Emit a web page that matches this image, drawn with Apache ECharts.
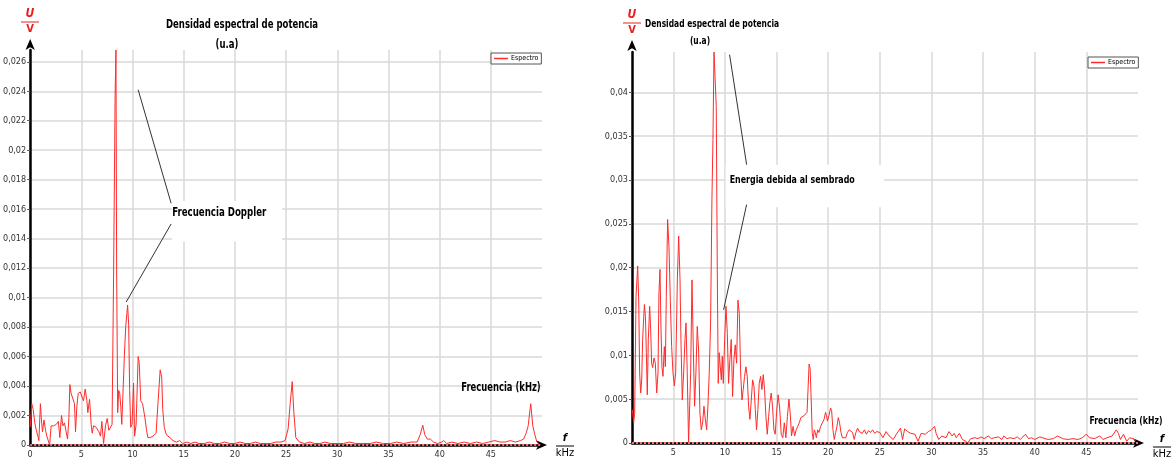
<!DOCTYPE html>
<html>
<head>
<meta charset="utf-8">
<title>Densidad espectral de potencia</title>
<script src="https://cdn.jsdelivr.net/npm/echarts@6/dist/echarts.min.js"></script>
<style>
  html, body { margin: 0; padding: 0; background: #ffffff; }
  #chart { width: 1172px; height: 463px; }
</style>
</head>
<body>
<div id="chart"></div>
<script>
// Power spectral density, two measurements: [frequency kHz, power (u.a.)]
const leftSpectrum = [
  [0,0.0012],[0.15,0.0028],[0.3,0.0024],[0.45,0.0015],[0.6,0.0010],[0.75,0.0006],[0.85,0.0003],
  [1.0,0.0028],[1.1,0.0017],[1.2,0.0009],[1.35,0.0017],[1.5,0.0010],[1.63,0.0006],[1.76,0.0007],
  [1.9,0.0000],[2.05,0.0013],[2.3,0.0013],[2.55,0.0014],[2.75,0.0016],[2.9,0.0005],[3.06,0.0020],
  [3.2,0.0013],[3.35,0.0015],[3.5,0.0016],[3.65,0.0004],[3.78,0.0018],[3.88,0.0041],[4.0,0.0035],
  [4.17,0.0036],[4.33,0.0028],[4.43,0.0009],[4.56,0.0026],[4.69,0.0035],[4.89,0.0036],[5.05,0.0036],
  [5.21,0.0030],[5.37,0.0038],[5.54,0.0030],[5.63,0.0022],[5.8,0.0031],[5.96,0.0014],[6.06,0.0008],
  [6.19,0.0013],[6.45,0.0012],[6.71,0.0009],[6.87,0.0006],[7.0,0.0016],[7.17,0.0001],[7.36,0.0013],
  [7.52,0.0018],[7.69,0.0010],[7.85,0.0009],[8.0,0.0014],[8.15,0.0116],[8.3,0.0238],[8.38,0.0268],
  [8.45,0.0116],[8.55,0.0022],[8.65,0.0037],[8.75,0.0035],[8.85,0.0026],[8.95,0.0014],[9.1,0.0015],
  [9.2,0.0060],[9.33,0.0080],[9.52,0.0095],[9.62,0.0082],[9.72,0.0037],[9.82,0.0012],[9.95,0.0014],
  [10.1,0.0042],[10.2,0.0006],[10.35,0.0014],[10.55,0.0060],[10.65,0.0056],[10.8,0.0030],[10.98,0.0028],
  [11.2,0.0019],[11.37,0.0010],[11.5,0.0005],[11.7,0.0005],[12.0,0.0006],[12.3,0.0008],[12.5,0.0030],
  [12.7,0.0051],[12.85,0.0046],[12.95,0.0024],[13.1,0.0012],[13.3,0.0007],[13.65,0.0005],[13.95,0.0003],
  [14.3,0.0002],[14.6,0.0003],[14.9,0.0001],[15.3,0.0002],[15.7,0.0001],[16.1,0.0002],[16.5,0.0001],
  [17.0,0.0001],[17.5,0.0002],[18.0,0.0001],[18.5,0.0001],[19.0,0.0002],[19.5,0.0001],[20.0,0.0001],
  [20.5,0.0002],[21.0,0.0001],[21.5,0.0001],[22.0,0.0002],[22.5,0.0001],[23.0,0.0001],[23.5,0.0001],
  [24.0,0.0002],[24.5,0.0002],[24.9,0.0003],[25.2,0.0011],[25.4,0.0028],[25.6,0.0043],[25.75,0.0023],
  [25.95,0.0005],[26.3,0.0002],[26.8,0.0001],[27.3,0.0002],[27.8,0.0001],[28.3,0.0001],[28.8,0.0002],
  [29.3,0.0001],[30.0,0.0001],[30.6,0.0001],[31.2,0.0002],[31.8,0.0001],[32.5,0.0001],[33.2,0.0001],
  [33.8,0.0002],[34.5,0.0001],[35.2,0.0001],[35.8,0.0002],[36.5,0.0001],[37.2,0.0002],[37.8,0.0002],
  [38.1,0.0007],[38.35,0.00135],[38.55,0.0007],[38.8,0.0004],[39.1,0.0004],[39.4,0.0002],[39.8,0.0001],
  [40.2,0.0002],[40.4,0.0003],[40.7,0.0001],[41.2,0.0002],[41.8,0.0001],[42.4,0.0002],[43.0,0.0001],
  [43.6,0.0002],[44.2,0.0001],[44.8,0.0002],[45.4,0.0003],[45.9,0.0002],[46.4,0.0002],[46.9,0.0003],
  [47.4,0.0002],[47.9,0.0003],[48.2,0.0004],[48.45,0.0008],[48.65,0.0013],[48.9,0.0028],[49.1,0.0013],
  [49.3,0.0007],[49.5,0.0002],[49.7,0.0001]
];

const rightSpectrum = [
  [1.03,0.0038],[1.16,0.0023],[1.26,0.0034],[1.39,0.0167],[1.55,0.0202],[1.65,0.0163],[1.74,0.0080],
  [1.84,0.0057],[1.94,0.0072],[2.03,0.0118],[2.2,0.0158],[2.3,0.0144],[2.39,0.0103],[2.48,0.0055],
  [2.58,0.0118],[2.71,0.0156],[2.81,0.0129],[2.9,0.0091],[3.0,0.0086],[3.13,0.0097],[3.26,0.0091],
  [3.39,0.0057],[3.52,0.0080],[3.61,0.0171],[3.71,0.0198],[3.81,0.0129],[3.9,0.0087],[4.0,0.0076],
  [4.13,0.0110],[4.23,0.0087],[4.32,0.0167],[4.45,0.0255],[4.58,0.0224],[4.71,0.0163],[4.84,0.0110],
  [4.97,0.0080],[5.1,0.0065],[5.23,0.0080],[5.39,0.0186],[5.52,0.0236],[5.65,0.0186],[5.74,0.0118],
  [5.87,0.0049],[6.0,0.0080],[6.13,0.0118],[6.23,0.0137],[6.35,0.0080],[6.48,0.0000],[6.58,0.0000],
  [6.68,0.0080],[6.81,0.0186],[6.94,0.0106],[7.06,0.0042],[7.19,0.0080],[7.32,0.0133],[7.45,0.0106],
  [7.58,0.0034],[7.71,0.0015],[7.84,0.0023],[7.97,0.0042],[8.1,0.0027],[8.23,0.0015],[8.35,0.0042],
  [8.48,0.0080],[8.61,0.0137],[8.74,0.0278],[8.84,0.0346],[8.94,0.0446],[9.06,0.0446],[9.16,0.0384],
  [9.26,0.0194],[9.35,0.0068],[9.45,0.0103],[9.55,0.0087],[9.65,0.0072],[9.74,0.0099],[9.84,0.0068],
  [9.97,0.0118],[10.1,0.0156],[10.23,0.0125],[10.35,0.0068],[10.48,0.0095],[10.61,0.0118],[10.74,0.0053],
  [10.87,0.0095],[11.0,0.0112],[11.13,0.0091],[11.26,0.0163],[11.39,0.0148],[11.52,0.0080],[11.65,0.0049],
  [11.77,0.0061],[11.9,0.0076],[12.03,0.0087],[12.16,0.0076],[12.29,0.0042],[12.42,0.0027],[12.55,0.0049],
  [12.68,0.0072],[12.81,0.0065],[12.94,0.0038],[13.06,0.0015],[13.19,0.0038],[13.32,0.0068],[13.45,0.0076],
  [13.58,0.0061],[13.71,0.0078],[13.84,0.0061],[13.97,0.0030],[14.1,0.0010],[14.23,0.0030],[14.35,0.0046],
  [14.48,0.0057],[14.61,0.0042],[14.74,0.0015],[14.87,0.0010],[15.0,0.0035],[15.15,0.0055],[15.3,0.0040],
  [15.45,0.0010],[15.6,0.0006],[15.75,0.0023],[15.9,0.0006],[16.05,0.0030],[16.2,0.0050],[16.32,0.0034],
  [16.45,0.0008],[16.6,0.0019],[16.75,0.0008],[16.9,0.0015],[17.05,0.0019],[17.2,0.0023],[17.35,0.0029],
  [17.5,0.0027],[17.65,0.0031],[17.8,0.0029],[17.95,0.0035],[18.05,0.0062],[18.15,0.0090],[18.25,0.0085],
  [18.35,0.0050],[18.45,0.0012],[18.55,0.0004],[18.65,0.0015],[18.75,0.0012],[18.85,0.0006],[18.98,0.0015],
  [19.1,0.0012],[19.27,0.0019],[19.43,0.0023],[19.6,0.0027],[19.74,0.0035],[19.84,0.0031],[19.93,0.0025],
  [20.07,0.0031],[20.23,0.0040],[20.33,0.0037],[20.46,0.0015],[20.59,0.0004],[20.72,0.0012],[20.85,0.0019],
  [20.98,0.0029],[21.1,0.0023],[21.24,0.0012],[21.37,0.0006],[21.54,0.0004],[21.7,0.0006],[21.86,0.0012],
  [22.03,0.0015],[22.2,0.0017],[22.36,0.0012],[22.52,0.0004],[22.68,0.0012],[22.85,0.0017],[23.0,0.0013],
  [23.15,0.0015],[23.3,0.0011],[23.5,0.0015],[23.7,0.0010],[23.9,0.0014],[24.1,0.0012],[24.3,0.0015],
  [24.5,0.0011],[24.7,0.0013],[24.85,0.0015],[25.0,0.0012],[25.3,0.0006],[25.6,0.0013],[25.9,0.0008],
  [26.3,0.0004],[26.6,0.0010],[27.0,0.0017],[27.2,0.0004],[27.4,0.0016],[27.7,0.0013],[28.0,0.0011],
  [28.4,0.0010],[28.7,0.0002],[29.0,0.0011],[29.4,0.0010],[29.7,0.0013],[30.0,0.0015],[30.3,0.0019],
  [30.45,0.0011],[30.7,0.0004],[31.0,0.0008],[31.4,0.0006],[31.7,0.0013],[32.0,0.0008],[32.2,0.0011],
  [32.4,0.0006],[32.7,0.0011],[33.0,0.0004],[33.3,0.0002],[33.5,0.0000],[33.8,0.0005],[34.2,0.0006],
  [34.5,0.0005],[34.8,0.0007],[35.1,0.0005],[35.5,0.0008],[35.8,0.0005],[36.1,0.0006],[36.5,0.0007],
  [36.8,0.0004],[37.0,0.0008],[37.3,0.0005],[37.6,0.0006],[38.0,0.0005],[38.3,0.0007],[38.6,0.0004],
  [39.1,0.0010],[39.4,0.0005],[39.7,0.0006],[40.0,0.0004],[40.5,0.0007],[41.0,0.0005],[41.3,0.0004],
  [41.8,0.0005],[42.2,0.0008],[42.7,0.0005],[43.2,0.0004],[43.7,0.0005],[44.2,0.0004],[44.6,0.0006],
  [45.0,0.0010],[45.3,0.0006],[45.8,0.0005],[46.3,0.0008],[46.6,0.0004],[47.0,0.0006],[47.5,0.0008],
  [47.9,0.0015],[48.1,0.0011],[48.3,0.0004],[48.6,0.0010],[48.9,0.0002],[49.2,0.0006],[49.5,0.0005],
  [49.8,0.0003]
];

// Axis ticks
const leftFreqTicks = [0, 5, 10, 15, 20, 25, 30, 35, 40, 45];
const leftPowerTicks = [0, 0.002, 0.004, 0.006, 0.008, 0.01, 0.012, 0.014, 0.016, 0.018, 0.02, 0.022, 0.024, 0.026];
const rightFreqTicks = [5, 10, 15, 20, 25, 30, 35, 40, 45];
const rightPowerTicks = [0, 0.005, 0.01, 0.015, 0.02, 0.025, 0.03, 0.035, 0.04];

// Axis ranges
const leftFreqRange = [0, 50];
const leftPowerRange = [0, 0.0268];
const rightFreqRange = [1, 50];
const rightPowerRange = [0, 0.0446];

// Callouts: leader lines as [[f, p], [f, p]], label box corners [f, p]
const leftCallout = {
  text: 'Frecuencia Doppler',
  boxTopLeft: [13.87, 0.01655], boxBottomRight: [24.6, 0.0138],
  lines: [[[10.55, 0.0241], [13.77, 0.0164]], [[13.77, 0.0150], [9.38, 0.0097]]]
};
const rightCallout = {
  text: 'Energia debida al sembrado',
  boxTopLeft: [10.07, 0.03175], boxBottomRight: [25.4, 0.0269],
  lines: [[[10.45, 0.0443], [12.1, 0.03175]], [[12.1, 0.0272], [9.87, 0.0152]]]
};

const SERIES_NAME = 'Espectro';
const LINE_RED = '#ff2b2b';
const TICK_FONT = "'Liberation Sans Narrow', 'DejaVu Sans Condensed', sans-serif";
const HEAD_FONT = "'DejaVu Sans Condensed', 'DejaVu Sans', sans-serif";

const decimalComma = v => String(v).replace('.', ',');

function xAxisFor(gridIndex, range, ticks, arrowOffset) {
  return {
    type: 'value', gridIndex, min: range[0], max: range[1],
    axisLine: { show: true, onZero: false, symbol: ['none', 'arrow'], symbolSize: [7, 11],
      symbolOffset: [0, arrowOffset], lineStyle: { color: '#000', width: 2.5 } },
    axisTick: { show: false, customValues: ticks },
    axisLabel: { customValues: ticks, formatter: decimalComma, color: '#333',
      fontFamily: TICK_FONT, fontSize: 9, margin: 5 },
    splitLine: { show: true, lineStyle: { color: '#d8d8d8', width: 1.5 } }
  };
}

function yAxisFor(gridIndex, range, ticks, arrowOffset) {
  return {
    type: 'value', gridIndex, min: range[0], max: range[1],
    axisLine: { show: true, onZero: false, symbol: ['none', 'arrow'], symbolSize: [7, 11],
      symbolOffset: [0, arrowOffset], lineStyle: { color: '#000', width: 2.5 } },
    axisTick: { show: true, length: 3, customValues: ticks, lineStyle: { color: '#555', width: 1 } },
    axisLabel: { customValues: ticks, formatter: decimalComma, color: '#333',
      fontFamily: TICK_FONT, fontSize: 9, margin: 4 },
    splitLine: { show: true, lineStyle: { color: '#d8d8d8', width: 1.5 } }
  };
}

function spectrumSeries(idx, data, callout) {
  return {
    name: SERIES_NAME, type: 'line', xAxisIndex: idx, yAxisIndex: idx,
    data, showSymbol: false, symbol: 'none', z: 3,
    lineStyle: { color: LINE_RED, width: 1 }, itemStyle: { color: LINE_RED },
    markLine: {
      silent: true, symbol: ['none', 'none'], animation: false,
      label: { show: false },
      data: [
        { yAxis: 0, lineStyle: { color: '#ff6b6b', width: 2, type: [2, 2] } },
        ...callout.lines.map(seg => [
          { coord: seg[0], lineStyle: { color: '#333', width: 1, type: 'solid' } },
          { coord: seg[1] }
        ])
      ]
    }
  };
}

// Bold heading text, horizontally condensed
function headText(x, y, text, size, squeeze, align) {
  return { type: 'text', x, y, scaleX: squeeze, z: 10,
    style: { text, fill: '#000', align: align || 'center', verticalAlign: 'middle',
      font: 'bold ' + size + 'px ' + HEAD_FONT } };
}

function fraction(x, yTop, top, bottom, color, size) {
  return [
    { type: 'text', x, y: yTop, z: 10, style: { text: top, fill: color, align: 'center', verticalAlign: 'middle',
      font: 'italic bold ' + size + 'px ' + HEAD_FONT } },
    { type: 'line', z: 10, shape: { x1: x - 9, y1: yTop + 8, x2: x + 9, y2: yTop + 8 },
      style: { stroke: color, lineWidth: 1 } },
    { type: 'text', x, y: yTop + 15, z: 10, style: { text: bottom, fill: color, align: 'center', verticalAlign: 'middle',
      font: (color === '#000' ? '' : 'bold ') + '11px ' + HEAD_FONT } }
  ];
}

const legendBase = {
  data: [SERIES_NAME], orient: 'horizontal', icon: 'rect', itemWidth: 14, itemHeight: 1.5,
  itemGap: 2, selectedMode: false, backgroundColor: '#fff',
  borderColor: '#555', borderWidth: 1, padding: [2, 3, 2, 3],
  textStyle: { fontSize: 7, color: '#000', fontFamily: TICK_FONT, padding: [0, 0, 0, -2] }
};

const chart = echarts.init(document.getElementById('chart'), null, { renderer: 'canvas' });

chart.setOption({
  animation: false,
  backgroundColor: '#ffffff',
  grid: [
    { left: 30, top: 50, width: 512, height: 395 },
    { left: 632, top: 52, width: 506, height: 391 }
  ],
  legend: [
    Object.assign({}, legendBase, { left: 491, top: 53 }),
    Object.assign({}, legendBase, { left: 1088, top: 57 })
  ],
  xAxis: [
    xAxisFor(0, leftFreqRange, leftFreqTicks, 5),
    xAxisFor(1, rightFreqRange, rightFreqTicks, 6)
  ],
  yAxis: [
    yAxisFor(0, leftPowerRange, leftPowerTicks, 11),
    yAxisFor(1, rightPowerRange, rightPowerTicks, 12)
  ],
  series: [
    spectrumSeries(0, leftSpectrum, leftCallout),
    spectrumSeries(1, rightSpectrum, rightCallout)
  ]
});

// Callout label boxes placed from data coordinates
function calloutGraphics(gridIndex, callout, size, squeeze, padLeft, padTop) {
  const tl = chart.convertToPixel({ gridIndex }, callout.boxTopLeft);
  const br = chart.convertToPixel({ gridIndex }, callout.boxBottomRight);
  return [
    { type: 'rect', z: 1, shape: { x: tl[0], y: tl[1], width: br[0] - tl[0], height: br[1] - tl[1] },
      style: { fill: '#fff' } },
    headText(tl[0] + padLeft, tl[1] + padTop, callout.text, size, squeeze, 'left')
  ];
}

chart.setOption({
  graphic: [
    headText(242, 25, 'Densidad espectral de potencia', 12, 0.79),
    headText(227, 45, '(u.a)', 12, 0.79),
    headText(501, 388, 'Frecuencia (kHz)', 12, 0.78),
    headText(712, 24, 'Densidad espectral de potencia', 11, 0.76),
    headText(700, 41, '(u.a)', 11, 0.76),
    headText(1126, 421, 'Frecuencia (kHz)', 11, 0.78),
    ...calloutGraphics(0, leftCallout, 12, 0.8, 0, 12),
    ...calloutGraphics(1, rightCallout, 11, 0.8, 4, 15),
    ...fraction(30, 14, 'U', 'V', '#e8201e', 12),
    ...fraction(632, 15, 'U', 'V', '#e8201e', 12),
    ...fraction(565, 438, 'f', 'kHz', '#000', 11),
    ...fraction(1162, 439, 'f', 'kHz', '#000', 11)
  ]
});
</script>
</body>
</html>
